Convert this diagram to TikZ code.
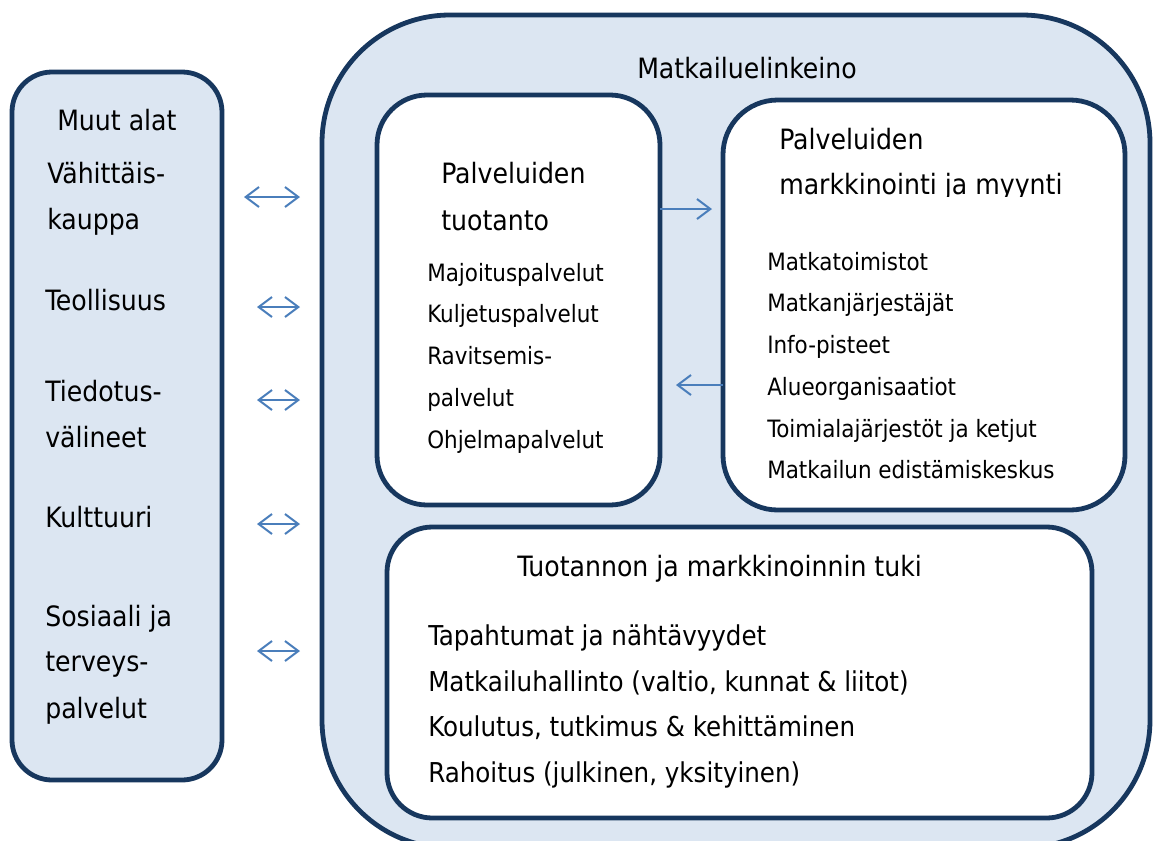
\documentclass[tikz,border=0pt]{standalone}
\usepackage{fontspec}
\setmainfont{DejaVu Sans Condensed}
\usetikzlibrary{arrows.meta}
\definecolor{navy}{HTML}{17375E}
\definecolor{pale}{HTML}{DCE6F2}
\definecolor{arr}{HTML}{4A7EBB}
\tikzset{
  box/.style={draw=navy, line width=3.6pt, inner sep=0pt, outer sep=0pt},
  big/.style={anchor=base west, inner sep=0pt, font=\fontsize{21}{25}\selectfont},
  mid/.style={anchor=base west, inner sep=0pt, font=\fontsize{20.5}{25}\selectfont},
  small/.style={anchor=base west, inner sep=0pt, font=\fontsize{17.9}{22}\selectfont},
  dbl/.style={draw=arr, line width=1.5pt, {Straight Barb[length=10pt,width=15pt]}-{Straight Barb[length=10pt,width=15pt]}},
  sgl/.style={draw=arr, line width=1.5pt, -{Straight Barb[length=10pt,width=15pt]}}
}
\begin{document}
\begin{tikzpicture}[x=0.75pt,y=-0.75pt]
\useasboundingbox (0,0) rectangle (1158,840);
\clip (0,0) rectangle (1158,840);
% boxes
\node[box, fill=pale, rounded corners=96pt, minimum width=621pt, minimum height=624.75pt] (main) at (736,431.5) {};
\node[box, fill=pale, rounded corners=30pt, minimum width=157.5pt, minimum height=531pt] (other) at (117,426) {};
\node[box, fill=white, rounded corners=37.5pt, minimum width=212.25pt, minimum height=307.5pt] (prod) at (518.5,300) {};
\node[box, fill=white, rounded corners=41pt, minimum width=301.5pt, minimum height=307.5pt] (mark) at (924,305) {};
\node[box, fill=white, rounded corners=34pt, minimum width=528.75pt, minimum height=218.25pt] (tuki) at (739.5,672.5) {};
% left column
\node[big] (t1) at (57,130) {Muut alat};
\node[big] (t2) at (47,183) {Vähittäis-};
\node[big] (t3) at (47,229) {kauppa};
\node[big] (t4) at (45,310) {Teollisuus};
\node[big] (t5) at (45,401) {Tiedotus-};
\node[big] (t6) at (45,447) {välineet};
\node[big] (t7) at (45,527) {Kulttuuri};
\node[big] (t8) at (45,626) {Sosiaali ja};
\node[big] (t9) at (45,671) {terveys-};
\node[big] (t10) at (45,718) {palvelut};
% main title
\node[big] (title) at (637,78) {Matkailuelinkeino};
% production
\node[big] (p1) at (441,183) {Palveluiden};
\node[big] (p2) at (441,230) {tuotanto};
\node[small] (p3) at (427,281) {Majoituspalvelut};
\node[small] (p4) at (427,322) {Kuljetuspalvelut};
\node[small] (p5) at (427,364) {Ravitsemis-};
\node[small] (p6) at (427,406) {palvelut};
\node[small] (p7) at (427,448) {Ohjelmapalvelut};
% marketing
\node[big] (m1) at (779,149) {Palveluiden};
\begin{scope}
\clip (740,160) rectangle (1110,196);
\node[big] (m2) at (779,194.5) {markkinointi ja myynti};
\end{scope}
\node[small] (m3) at (767,270) {Matkatoimistot};
\node[small] (m4) at (767,311) {Matkanjärjestäjät};
\node[small] (m5) at (767,353) {Info-pisteet};
\node[small] (m6) at (767,395) {Alueorganisaatiot};
\node[small] (m7) at (767,437) {Toimialajärjestöt ja ketjut};
\node[small] (m8) at (767,478) {Matkailun edistämiskeskus};
% support
\node[big] (s1) at (517,576) {Tuotannon ja markkinoinnin tuki};
\node[mid] (s2) at (428,645) {Tapahtumat ja nähtävyydet};
\node[mid] (s3) at (428,691) {Matkailuhallinto (valtio, kunnat \& liitot)};
\node[mid] (s4) at (428,736) {Koulutus, tutkimus \& kehittäminen};
\node[mid] (s5) at (428,782) {Rahoitus (julkinen, yksityinen)};
% arrows
\coordinate (a1l) at (244,197); \coordinate (a1r) at (300,197);
\coordinate (a2l) at (257,307); \coordinate (a2r) at (300,307);
\coordinate (a3l) at (257,400); \coordinate (a3r) at (300,400);
\coordinate (a4l) at (257,524); \coordinate (a4r) at (300,524);
\coordinate (a5l) at (257,651); \coordinate (a5r) at (300,651);
\draw[dbl] (a1l) -- (a1r);
\draw[dbl] (a2l) -- (a2r);
\draw[dbl] (a3l) -- (a3r);
\draw[dbl] (a4l) -- (a4r);
\draw[dbl] (a5l) -- (a5r);
\coordinate (b1) at (prod.east |- 0,209); \coordinate (b2) at (712,209);
\draw[sgl] (b1) -- (b2);
\coordinate (c1) at (mark.west |- 0,385); \coordinate (c2) at (676,385);
\draw[sgl] (c1) -- (c2);
\end{tikzpicture}
\end{document}
